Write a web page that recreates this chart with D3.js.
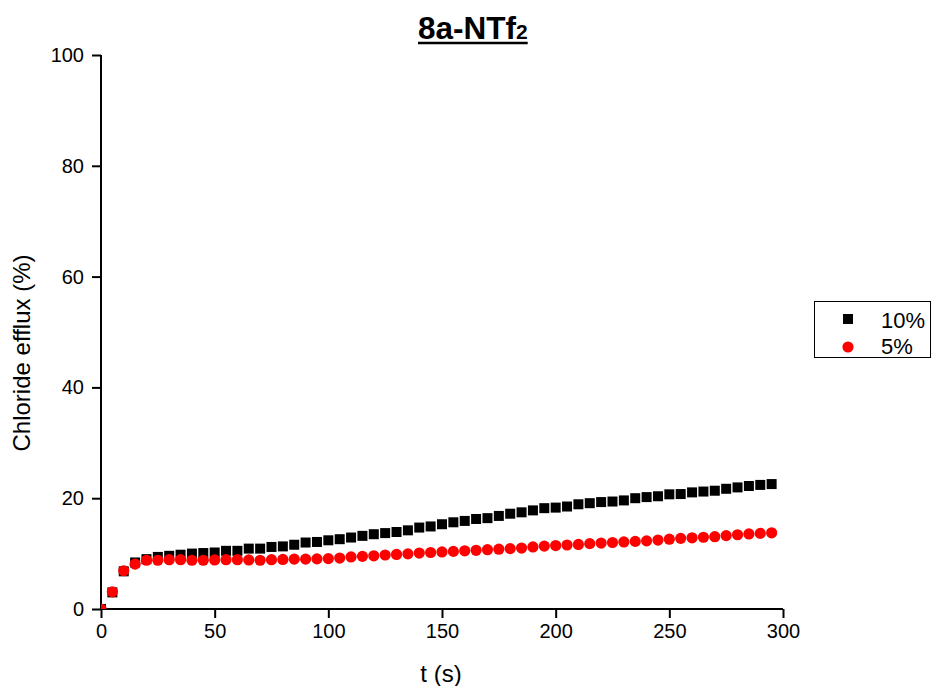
<!DOCTYPE html>
<html><head><meta charset="utf-8">
<script src="https://cdn.jsdelivr.net/npm/d3@7"></script>
<style>body{margin:0;background:#fff;} svg{display:block;} text{font-family:"Liberation Sans",Arial,sans-serif;}</style>
</head><body>
<svg id="c" width="933" height="686"></svg>
<script>
const times = d3.range(0, 300, 5);
const series10 = [0,3.0,6.8,8.4,9.0,9.4,9.6,9.8,10.0,10.1,10.2,10.5,10.5,10.9,10.9,11.2,11.3,11.6,12.0,12.1,12.4,12.6,12.9,13.2,13.5,13.7,13.9,14.2,14.7,14.9,15.3,15.65,15.9,16.25,16.4,16.8,17.2,17.45,17.8,18.2,18.3,18.5,18.9,19.1,19.3,19.4,19.6,20.0,20.2,20.35,20.7,20.75,21.05,21.2,21.35,21.7,21.95,22.2,22.4,22.55];
const series5 = [0,3.1,6.9,8.1,8.8,8.8,8.9,8.9,8.8,8.8,8.85,8.9,8.9,8.85,8.8,8.9,8.95,9.0,9.0,9.05,9.1,9.2,9.4,9.5,9.6,9.75,9.85,9.95,10.1,10.2,10.3,10.4,10.5,10.6,10.7,10.8,10.9,11.0,11.2,11.35,11.45,11.55,11.65,11.8,11.9,12.0,12.1,12.2,12.3,12.45,12.6,12.75,12.85,12.95,13.05,13.25,13.4,13.55,13.65,13.75];
const xTicks = [0,50,100,150,200,250,300];
const yTicks = [0,20,40,60,80,100];
const legendLabels = ["10%","5%"];

const svg = d3.select("#c");
const L = 101, R = 783, T = 55, B = 609;
const x = d3.scaleLinear().domain([0,300]).range([L,R]);
const y = d3.scaleLinear().domain([0,100]).range([B,T]);

svg.append("defs").append("clipPath").attr("id","clip")
  .append("rect").attr("x",L).attr("y",T-10).attr("width",R-L+10).attr("height",B-T+10);

// minor ticks
const gx = svg.append("g").attr("transform",`translate(0,${B})`);
gx.call(d3.axisBottom(x).tickValues(d3.range(25,300,50)).tickSize(5).tickFormat(""));
gx.call(d3.axisBottom(x).tickValues(xTicks).tickSize(9).tickPadding(6).tickFormat(d3.format("d")));
gx.selectAll("path.domain").attr("d",`M${L},0H${R}`);
const gy = svg.append("g").attr("transform",`translate(${L},0)`);
gy.call(d3.axisLeft(y).tickValues(d3.range(10,100,20)).tickSize(5).tickFormat(""));
gy.call(d3.axisLeft(y).tickValues(yTicks).tickSize(9).tickPadding(8).tickFormat(d3.format("d")));
gy.selectAll("path.domain").attr("d",`M0,${T}V${B}`);
svg.selectAll(".domain").attr("stroke","#000").attr("stroke-width",2);
svg.selectAll(".tick line").attr("stroke","#000").attr("stroke-width",2);
svg.selectAll(".tick text").attr("font-size",20).attr("fill","#000").attr("font-family","Liberation Sans, Arial, sans-serif");

// data
const plot = svg.append("g").attr("clip-path","url(#clip)");
const sq = 10;
plot.selectAll("rect.s10").data(times).join("rect").attr("class","s10")
  .attr("x",(d)=>x(d)-sq/2).attr("y",(d,i)=>y(series10[i])-sq/2)
  .attr("width",sq).attr("height",sq).attr("fill","#000");
plot.selectAll("circle.s5").data(times).join("circle").attr("class","s5")
  .attr("cx",(d)=>x(d)).attr("cy",(d,i)=>y(series5[i])).attr("r",5.6).attr("fill","#ff0000");

// axis titles
svg.append("text").attr("x",441).attr("y",682).attr("text-anchor","middle").attr("font-size",24).text("t (s)");
svg.append("text").attr("transform","translate(30,353) rotate(-90)").attr("text-anchor","middle").attr("font-size",24).text("Chloride efflux (%)");

// title
const title = svg.append("text").attr("x",418).attr("y",39).attr("font-size",31.5).attr("font-weight","bold");
title.append("tspan").text("8a-NTf");
title.append("tspan").attr("font-size",21).attr("dy",0).text("2");
const tb = title.node().getBBox();
svg.append("line").attr("x1",tb.x).attr("x2",tb.x+tb.width).attr("y1",43).attr("y2",43).attr("stroke","#000").attr("stroke-width",2.5);

// legend
const lg = svg.append("g");
lg.append("rect").attr("x",814.5).attr("y",301.5).attr("width",116).attr("height",56).attr("fill","none").attr("stroke","#000").attr("stroke-width",1);
lg.append("rect").attr("x",843).attr("y",314).attr("width",sq).attr("height",sq).attr("fill","#000");
lg.append("circle").attr("cx",848).attr("cy",347).attr("r",5.6).attr("fill","#ff0000");
lg.selectAll("text.lg").data(legendLabels).join("text").attr("class","lg")
  .attr("x",881).attr("y",(d,i)=>328+i*26).attr("font-size",22).text(d=>d);
</script>
</body></html>
